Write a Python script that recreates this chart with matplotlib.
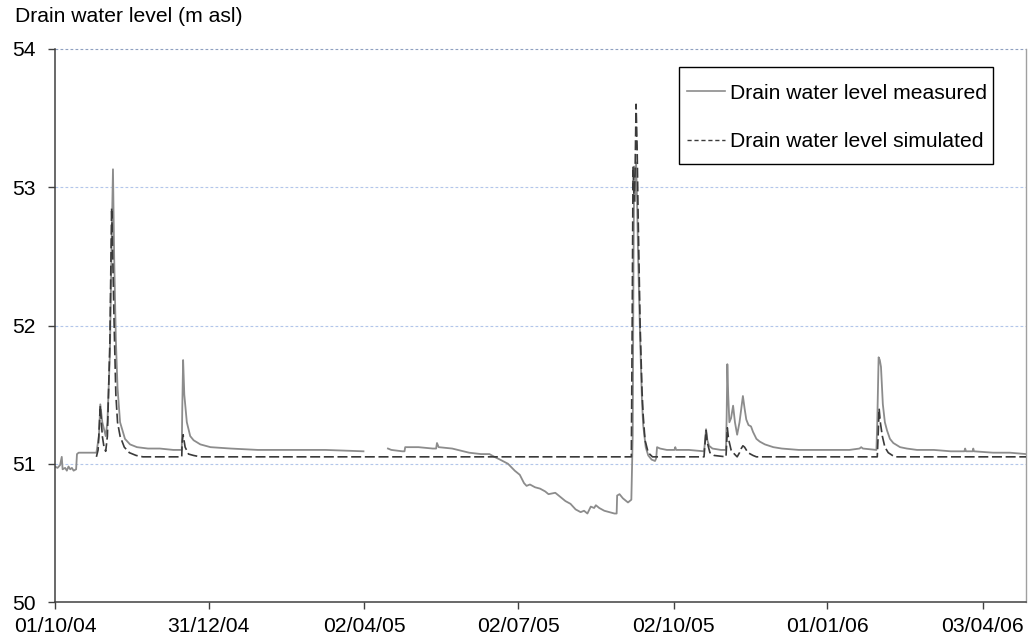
import numpy as np
import pandas as pd
import matplotlib
matplotlib.use("Agg")
import matplotlib.pyplot as plt
from matplotlib.lines import Line2D
from matplotlib.patches import Rectangle

plt.rcParams['font.family'] = ['Liberation Sans', 'DejaVu Sans']

START = pd.Timestamp('2004-10-01')

# Measured drain water level: day offset from START, value (m asl); NaN = data gap
meas_days = [0, 1.5, 3, 4, 4.5, 6, 7, 8, 9, 10, 11, 12.5, 13, 14, 20, 24.5, 25, 26, 26.8, 28, 29, 30,
             31, 32.5, 33.5, 34.3, 35, 36, 37, 38.5, 41.4, 44.4, 48.5, 55, 62, 70, 75, 75.3, 75.8, 76.5,
             78, 80, 82, 86, 92, 104, 120, 140, 160, 182.5, 190, 197, 199, 205.5, 206.8, 207.2, 215,
             223.5, 225.5, 226, 227, 235, 245, 252, 257, 260, 263.3, 268, 272, 275, 277.5, 279, 281,
             284, 287, 290, 292, 296, 299, 302, 305, 308, 311, 313, 315, 317, 319, 320, 322, 325, 328,
             331, 332.3, 332.6, 334, 336, 339, 341, 341.8, 342.3, 342.7, 343.2, 343.8, 344.4, 345,
             346.2, 347.3, 348, 349.5, 351, 353, 355, 355.7, 356.2, 358, 362, 366.5, 367, 367.5, 375,
             384, 384.6, 385.2, 386, 387, 389, 394, 397, 397.4, 397.8, 398.3, 399, 400, 401.2, 402.3,
             403.6, 405, 407, 408, 409, 410.3, 411.8, 413, 415, 417, 420, 425, 430, 440, 450, 460,
             470, 476, 477, 478, 486, 486.5, 487.3, 488, 488.7, 489.8, 491, 492.3, 494, 496, 500, 504,
             510, 520, 530, 538, 538.5, 539, 543, 543.3, 543.7, 555, 565, 574.5]
meas_vals = [50.98, 50.97, 50.99, 51.05, 50.96, 50.97, 50.95, 50.98, 50.96, 50.97, 50.95, 50.96, 51.07,
             51.08, 51.08, 51.08, 51.12, 51.20, 51.43, 51.30, 51.25, 51.20, 51.30, 51.80, 52.60, 53.13,
             52.50, 51.90, 51.55, 51.30, 51.18, 51.14, 51.12, 51.11, 51.11, 51.10, 51.10, 51.40, 51.75,
             51.50, 51.30, 51.20, 51.17, 51.14, 51.12, 51.11, 51.10, 51.10, 51.10, 51.09, np.nan, 51.11,
             51.10, 51.09, 51.09, 51.12, 51.12, 51.11, 51.11, 51.15, 51.12, 51.11, 51.08, 51.07, 51.07,
             51.05, 51.03, 51.00, 50.95, 50.92, 50.86, 50.84, 50.85, 50.83, 50.82, 50.80, 50.78, 50.79,
             50.76, 50.73, 50.71, 50.67, 50.65, 50.66, 50.64, 50.69, 50.68, 50.70, 50.68, 50.66, 50.65,
             50.64, 50.64, 50.77, 50.78, 50.75, 50.72, 50.74, 51.20, 52.50, 53.15, 52.90, 53.18, 52.90,
             52.50, 51.90, 51.45, 51.28, 51.12, 51.06, 51.03, 51.02, 51.04, 51.12, 51.11, 51.10, 51.10,
             51.12, 51.10, 51.10, 51.09, 51.16, 51.25, 51.17, 51.13, 51.11, 51.10, 51.10, 51.35, 51.72,
             51.50, 51.30, 51.33, 51.42, 51.30, 51.21, 51.30, 51.49, 51.40, 51.32, 51.28, 51.27, 51.23,
             51.18, 51.16, 51.14, 51.12, 51.11, 51.10, 51.10, 51.10, 51.10, 51.11, 51.12, 51.11, 51.10,
             51.30, 51.77, 51.75, 51.70, 51.43, 51.30, 51.24, 51.18, 51.15, 51.12, 51.11, 51.10, 51.10,
             51.09, 51.09, 51.11, 51.09, 51.09, 51.11, 51.09, 51.08, 51.08, 51.07]

# Simulated drain water level
sim_days = [24.5, 25.5, 26.8, 28, 29, 30, 31, 32.5, 33.5, 34, 35, 36, 37, 38.5, 41, 44, 48, 52, 75,
            75.2, 75.8, 77, 79, 82, 86, 341, 341.5, 342, 342.6, 343.2, 343.8, 344.4, 345, 346.2, 347.3,
            348, 349.1, 351, 353.5, 384, 384.6, 385.2, 386, 387.5, 390, 397, 397.4, 397.8, 398.5, 400,
            402, 403.6, 405, 406, 407, 408, 410, 413, 415, 486.5, 487, 487.6, 488.3, 489.5, 491, 493,
            495.5, 497, 574.5]
sim_vals = [51.05, 51.10, 51.42, 51.20, 51.12, 51.09, 51.20, 51.90, 52.85, 52.60, 52.00, 51.50, 51.30,
            51.20, 51.12, 51.08, 51.06, 51.05, 51.05, 51.15, 51.21, 51.12, 51.07, 51.06, 51.05, 51.05,
            52.00, 53.15, 52.90, 53.10, 53.60, 53.30, 52.80, 52.00, 51.53, 51.35, 51.17, 51.08, 51.05,
            51.05, 51.15, 51.24, 51.15, 51.08, 51.06, 51.05, 51.15, 51.26, 51.18, 51.10, 51.07, 51.05,
            51.08, 51.11, 51.13, 51.12, 51.08, 51.06, 51.05, 51.05, 51.20, 51.40, 51.30, 51.20, 51.12,
            51.08, 51.06, 51.05, 51.05]

tick_dates = ['2004-10-01', '2004-12-31', '2005-04-02', '2005-07-02', '2005-10-02', '2006-01-01', '2006-04-03']
tick_labels = ['01/10/04', '31/12/04', '02/04/05', '02/07/05', '02/10/05', '01/01/06', '03/04/06']
y_ticks = [50, 51, 52, 53, 54]

meas_x = START + pd.to_timedelta(meas_days, unit='D')
sim_x = START + pd.to_timedelta(sim_days, unit='D')

FS = 15.2

fig = plt.figure(figsize=(10.33, 6.42), dpi=100)
ax = fig.add_axes([55/1033, 40/642, 971/1033, 553/642])

for yv in y_ticks[1:]:
    ax.axhline(yv, color='#b3c6ea' if yv < 54 else '#8fa0c0', lw=0.8,
               linestyle=(0, (2.5, 2)), zorder=1, clip_on=False)

ax.plot(meas_x, meas_vals, color='#8c8c8c', lw=1.3, zorder=2)
ax.plot(sim_x, sim_vals, color='#3a3a3a', lw=1.2, linestyle=(0, (6, 2.2)), zorder=3)

ax.set_ylim(50, 54)
ax.set_xlim(START, START + pd.Timedelta(days=574.5))
ax.set_yticks(y_ticks)
ax.set_xticks(pd.to_datetime(tick_dates))
ax.set_xticklabels(tick_labels)

ax.tick_params(axis='y', direction='out', length=5, width=1, color='#404040', pad=9, labelsize=FS)
ax.tick_params(axis='x', direction='out', length=5, width=1, color='#404040', pad=6, labelsize=FS)

for s in ['left', 'bottom']:
    ax.spines[s].set_color('#404040')
    ax.spines[s].set_linewidth(1.1)
ax.spines['right'].set_color('#a0a0a0')
ax.spines['right'].set_linewidth(1.0)
ax.spines['top'].set_visible(False)

# legend frame
ax.add_patch(Rectangle((0.6426, 0.7920), 0.9660 - 0.6426, 0.9675 - 0.7920,
                       transform=ax.transAxes, facecolor='white', edgecolor='black',
                       lw=1.0, zorder=4))

handles = [Line2D([], [], color='#8c8c8c', lw=1.2),
           Line2D([], [], color='#3a3a3a', lw=1.0, linestyle=(0, (3, 2)))]
leg = ax.legend(handles, ['Drain water level measured', 'Drain water level simulated'],
                loc='upper left', bbox_to_anchor=(0.6509, 0.9373), borderaxespad=0, fontsize=FS,
                frameon=False, borderpad=0, labelspacing=1.4, handlelength=1.8, handletextpad=0.25)
leg.set_zorder(5)

fig.text(15/1033, 1 - 17/642, 'Drain water level (m asl)', fontsize=FS, va='center', ha='left')

fig.savefig('out.png', dpi=100)
